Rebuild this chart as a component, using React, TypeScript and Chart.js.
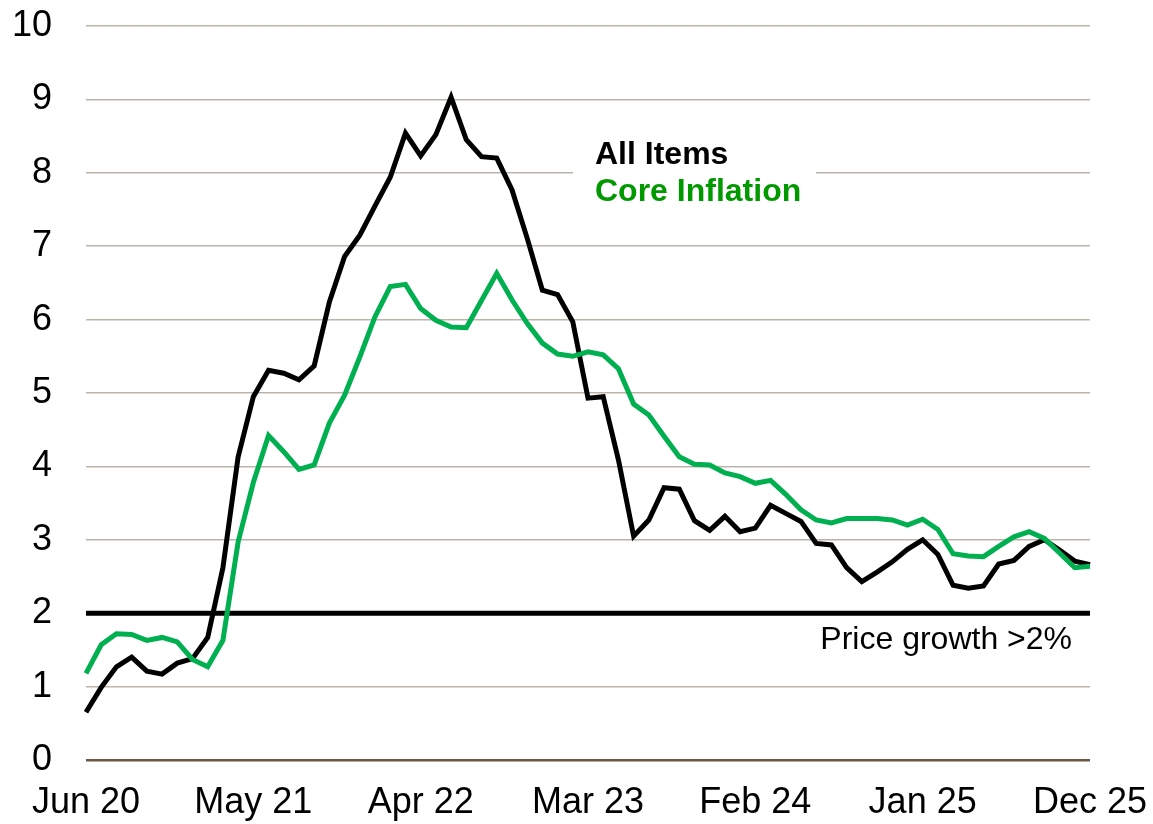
import React, { useEffect, useRef } from "react";
import { Chart, registerables } from "chart.js";

Chart.register(...registerables);

const MONTHS: string[] = [
  "Jun 20", "Jul 20", "Aug 20", "Sep 20", "Oct 20", "Nov 20", "Dec 20",
  "Jan 21", "Feb 21", "Mar 21", "Apr 21", "May 21", "Jun 21", "Jul 21", "Aug 21", "Sep 21", "Oct 21", "Nov 21", "Dec 21",
  "Jan 22", "Feb 22", "Mar 22", "Apr 22", "May 22", "Jun 22", "Jul 22", "Aug 22", "Sep 22", "Oct 22", "Nov 22", "Dec 22",
  "Jan 23", "Feb 23", "Mar 23", "Apr 23", "May 23", "Jun 23", "Jul 23", "Aug 23", "Sep 23", "Oct 23", "Nov 23", "Dec 23",
  "Jan 24", "Feb 24", "Mar 24", "Apr 24", "May 24", "Jun 24", "Jul 24", "Aug 24", "Sep 24", "Oct 24", "Nov 24", "Dec 24",
  "Jan 25", "Feb 25", "Mar 25", "Apr 25", "May 25", "Jun 25", "Jul 25", "Aug 25", "Sep 25", "Oct 25", "Nov 25", "Dec 25",
];

const TICK_LABELS: string[] = ["Jun 20", "May 21", "Apr 22", "Mar 23", "Feb 24", "Jan 25", "Dec 25"];

const ALL_ITEMS: number[] = [
  0.65, 0.99, 1.27, 1.40, 1.21, 1.17, 1.32,
  1.38, 1.67, 2.62, 4.13, 4.95, 5.31, 5.27, 5.18, 5.37, 6.24, 6.86, 7.15,
  7.55, 7.94, 8.54, 8.23, 8.52, 9.03, 8.45, 8.22, 8.20, 7.77, 7.11, 6.40,
  6.34, 5.97, 4.93, 4.95, 4.09, 3.05, 3.27, 3.71, 3.69, 3.26, 3.13, 3.32,
  3.11, 3.16, 3.47, 3.36, 3.25, 2.95, 2.93, 2.62, 2.43, 2.56, 2.70, 2.87,
  3.00, 2.80, 2.38, 2.34, 2.37, 2.67, 2.72, 2.91, 3.00, 2.86, 2.71, 2.66,
];

const CORE: number[] = [
  1.18, 1.57, 1.72, 1.71, 1.63, 1.67, 1.61,
  1.37, 1.27, 1.63, 2.97, 3.78, 4.42, 4.20, 3.96, 4.02, 4.59, 4.97, 5.49,
  6.04, 6.45, 6.48, 6.15, 5.99, 5.90, 5.89, 6.26, 6.63, 6.27, 5.95, 5.68,
  5.53, 5.50, 5.56, 5.52, 5.33, 4.85, 4.70, 4.41, 4.13, 4.03, 4.02, 3.91,
  3.86, 3.77, 3.81, 3.62, 3.41, 3.27, 3.23, 3.29, 3.29, 3.29, 3.27, 3.20,
  3.28, 3.14, 2.81, 2.78, 2.77, 2.91, 3.04, 3.11, 3.02, 2.82, 2.62, 2.64,
];

const THRESHOLD = 2;
const Y_MIN = 0;
const Y_MAX = 10;

const FONT = "'Liberation Sans', Arial, sans-serif";
const BLACK = "#000000";
const GREEN_LINE = "#00b050";
const GREEN_TEXT = "#009a00";
const GRID = "#bdb4a9";
const ZERO = "#6b5844";

const overlayPlugin = {
  id: "overlay",
  beforeDatasetsDraw(chart: any) {
    const { ctx, chartArea, scales } = chart;
    const y = scales.y;
    ctx.save();
    // white box behind the legend text (hides gridline)
    ctx.fillStyle = "#ffffff";
    ctx.fillRect(chartArea.left + 487, chartArea.top + 108, 243, 78);
    // threshold line
    const yp = y.getPixelForValue(THRESHOLD);
    ctx.strokeStyle = BLACK;
    ctx.lineWidth = 5;
    ctx.beginPath();
    ctx.moveTo(chartArea.left, yp);
    ctx.lineTo(chartArea.right, yp);
    ctx.stroke();
    ctx.restore();
  },
  afterDraw(chart: any) {
    const { ctx, chartArea, scales } = chart;
    const y = scales.y;
    ctx.save();
    ctx.textBaseline = "alphabetic";
    ctx.textAlign = "left";
    ctx.font = `bold 32px ${FONT}`;
    ctx.fillStyle = BLACK;
    ctx.fillText("All Items", chartArea.left + 509, chartArea.top + 138);
    ctx.fillStyle = GREEN_TEXT;
    ctx.fillText("Core Inflation", chartArea.left + 509, chartArea.top + 175);
    ctx.font = `32px ${FONT}`;
    ctx.fillStyle = BLACK;
    ctx.textAlign = "right";
    const yp = y.getPixelForValue(THRESHOLD);
    ctx.fillText("Price growth >2%", chartArea.right - 18, yp + 36);
    ctx.restore();
  },
};

export default function App() {
  const canvasRef = useRef<HTMLCanvasElement | null>(null);

  useEffect(() => {
    const canvas = canvasRef.current;
    if (!canvas) return;
    const chart = new Chart(canvas, {
      type: "line",
      data: {
        labels: MONTHS,
        datasets: [
          {
            label: "Core Inflation",
            data: CORE,
            borderColor: GREEN_LINE,
            borderWidth: 5,
            pointRadius: 0,
            tension: 0,
            fill: false,
            borderJoinStyle: "miter",
          },
          {
            label: "All Items",
            data: ALL_ITEMS,
            borderColor: BLACK,
            borderWidth: 5,
            pointRadius: 0,
            tension: 0,
            fill: false,
            borderJoinStyle: "miter",
          },
        ],
      },
      options: {
        animation: false,
        responsive: false,
        maintainAspectRatio: false,
        layout: { autoPadding: false, padding: { left: 0, top: 26, right: 63, bottom: 0 } },
        plugins: {
          legend: { display: false },
          tooltip: { enabled: false },
        },
        scales: {
          x: {
            type: "category",
            offset: false,
            grid: { display: false, drawTicks: false },
            border: { display: false },
            ticks: {
              autoSkip: false,
              maxRotation: 0,
              minRotation: 0,
              padding: 21,
              color: BLACK,
              font: { family: FONT, size: 36 },
              callback: function (this: any, value: any, index: number) {
                const lbl = MONTHS[index];
                return TICK_LABELS.includes(lbl) ? lbl : "";
              },
            },
            afterFit(scale: any) {
              scale.height = 64;
              scale.paddingLeft = 0;
              scale.paddingRight = 0;
              scale.paddingTop = 0;
              scale.paddingBottom = 0;
            },
          },
          y: {
            min: Y_MIN,
            max: Y_MAX,
            border: { display: false },
            grid: {
              drawTicks: false,
              color: (c: any) => (c.tick && c.tick.value === 0 ? ZERO : GRID),
              lineWidth: (c: any) => (c.tick && c.tick.value === 0 ? 2.5 : 1.5),
            },
            ticks: {
              stepSize: 1,
              padding: 34,
              color: BLACK,
              font: { family: FONT, size: 36 },
            },
            afterFit(scale: any) {
              scale.width = 86;
              scale.paddingLeft = 0;
              scale.paddingRight = 0;
              scale.paddingTop = 0;
              scale.paddingBottom = 0;
            },
          },
        },
      },
      plugins: [overlayPlugin],
    });
    return () => chart.destroy();
  }, []);

  return (
    <div style={{ position: "absolute", left: 0, top: 0, width: 1153, height: 824, background: "#ffffff" }}>
      <canvas ref={canvasRef} width={1153} height={824} style={{ display: "block" }} />
    </div>
  );
}
